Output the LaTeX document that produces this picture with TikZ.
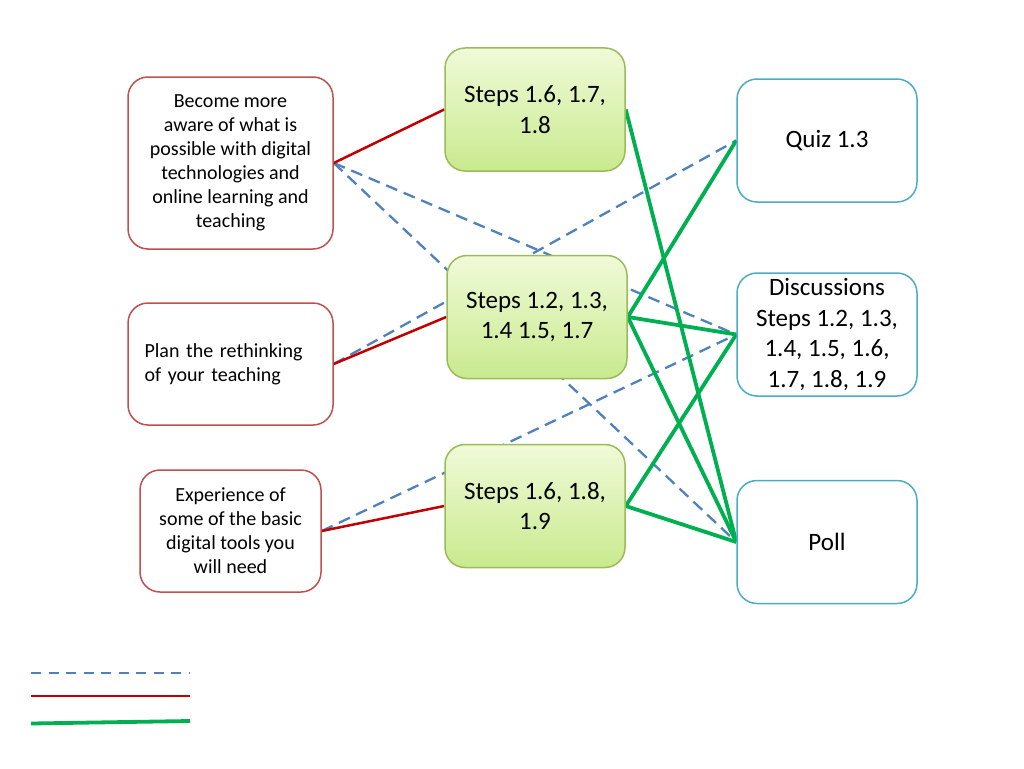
\documentclass[tikz,border=0pt]{standalone}
\usepackage{fontspec}
\setmainfont{Carlito}
\usetikzlibrary{backgrounds}
\definecolor{redborder}{HTML}{C0504D}
\definecolor{greenborder}{HTML}{9BBB59}
\definecolor{blueborder}{HTML}{4BACC6}
\definecolor{redline}{HTML}{C00000}
\definecolor{greenline}{HTML}{00B050}
\definecolor{dashline}{HTML}{4F81BD}
\definecolor{gtop}{HTML}{F0FAD8}
\definecolor{gbot}{HTML}{C9EA8E}
\begin{document}
\begin{tikzpicture}[x=1pt,y=-1pt,
  box/.style={rounded corners=20pt, line width=1.5pt, inner sep=0pt, align=center},
  outcome/.style={box, draw=redborder, fill=white, font=\fontsize{20}{24}\selectfont},
  stepbox/.style={box, draw=greenborder, top color=gtop, bottom color=gbot, font=\fontsize{25}{30.5}\selectfont, minimum width=180pt, minimum height=123pt},
  activity/.style={box, draw=blueborder, fill=white, font=\fontsize{25}{30.5}\selectfont, minimum width=180pt, minimum height=123pt},
  redl/.style={draw=redline, line width=2.5pt},
  greenl/.style={draw=greenline, line width=3.8pt},
  dashl/.style={draw=dashline, line width=2.3pt, dash pattern=on 12pt off 7pt}]
\useasboundingbox (0,0) rectangle (1024,768);
\node[outcome, minimum width=205pt, minimum height=172pt] (o1) at (230.5,163) {Become more\\aware of what is\\possible with digital\\technologies and\\online learning and\\teaching};
\node[outcome, minimum width=205pt, minimum height=122pt, align=left, text width=172pt] (o2) at (230.5,364) {Plan the rethinking\\of your teaching};
\node[outcome, minimum width=181pt, minimum height=122pt] (o3) at (230.5,531) {Experience of\\some of the basic\\digital tools you\\will need};
\node[stepbox] (s1) at (535,109.5) {Steps 1.6, 1.7,\\1.8};
\node[stepbox] (s2) at (537,317) {Steps 1.2, 1.3,\\1.4 1.5, 1.7};
\node[stepbox] (s3) at (535,506) {Steps 1.6, 1.8,\\1.9};
\node[activity] (a1) at (827,140.5) {Quiz 1.3};
\node[activity] (a2) at (827,334.5) {Discussions\\Steps 1.2, 1.3,\\1.4, 1.5, 1.6,\\1.7, 1.8, 1.9};
\node[activity] (a3) at (827,542) {Poll};
\begin{scope}[on background layer]
% dashed links
\draw[dashl] (o1.east) -- (a2.west);
\draw[dashl] (o1.east) -- (a3.west);
\draw[dashl] (o2.east) -- (a1.west);
\draw[dashl] (o3.east) -- (a2.west);
% red links
\draw[redl] (o1.east) -- (s1.west);
\draw[redl] (o2.east) -- (s2.west);
\draw[redl] (o3.east) -- (s3.west);
% green links
\draw[greenl] (s1.east) -- (a3.west);
\draw[greenl] (s2.east) -- (a1.west);
\draw[greenl] (s2.east) -- (a2.west);
\draw[greenl] (s2.east) -- (a3.west);
\draw[greenl] (s3.east) -- (a2.west);
\draw[greenl] (s3.east) -- (a3.west);
\end{scope}
% legend
\coordinate (l1a) at (31,673); \coordinate (l1b) at (190,673);
\coordinate (l2a) at (31,696); \coordinate (l2b) at (190,696);
\coordinate (l3a) at (31,723.5); \coordinate (l3b) at (190,721);
\draw[dashl, dash pattern=on 10pt off 7.5pt] (l1a) -- (l1b);
\draw[redl] (l2a) -- (l2b);
\draw[greenl] (l3a) -- (l3b);
\end{tikzpicture}
\end{document}
